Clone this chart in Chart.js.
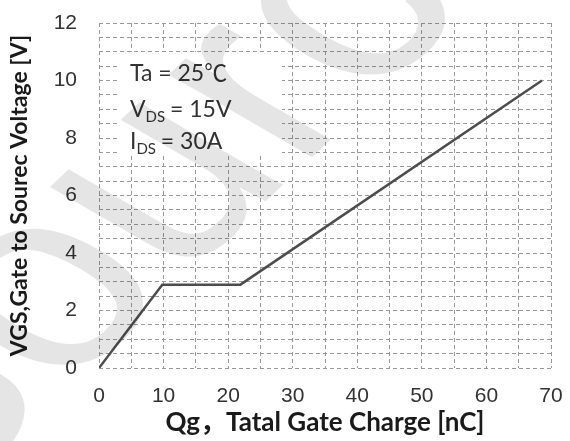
<!DOCTYPE html>
<html>
<head>
<meta charset="utf-8">
<script src="https://cdn.jsdelivr.net/npm/chart.js@4/dist/chart.umd.min.js"></script>
<style>
  html, body { margin: 0; padding: 0; background: #fff; }
  canvas { display: block; }
</style>
</head>
<body>
<canvas id="chart-qg" width="570" height="441"></canvas>
<script>
// gate charge curve
const qg = [0, 9.8, 21.9, 68.6];
const vgs = [0, 2.9, 2.9, 10];
const xLabelTicks = [0, 10, 20, 30, 40, 50, 60, 70];
const yLabelTicks = [0, 2, 4, 6, 8, 10, 12];
const notes = [
  { main: "Ta = 25℃", sub: "", rest: "" },
  { main: "V", sub: "DS", rest: " = 15V" },
  { main: "I", sub: "DS", rest: " = 30A" },
];

const TICK_FONT = { family: "'Liberation Sans', Arial, sans-serif", size: 21 };
const NOTE_FAMILY = "Lato, 'Noto Sans CJK SC', sans-serif";

// ── Condition box (white patch over the grid + text) ───────────────────────
const notesPlugin = {
  id: "notes",
  beforeDatasetsDraw(chart) {
    const ctx = chart.ctx;
    ctx.save();
    ctx.fillStyle = "#fff";
    ctx.fillRect(120, 52, 162, 102);
    ctx.fillStyle = "#333";
    ctx.textBaseline = "alphabetic";
    const baselines = [81, 117, 149];
    notes.forEach((n, i) => {
      let x = 130;
      const y = baselines[i];
      ctx.font = `23px ${NOTE_FAMILY}`;
      ctx.fillText(n.main, x, y);
      x += ctx.measureText(n.main).width;
      if (n.sub) {
        ctx.font = `15px ${NOTE_FAMILY}`;
        ctx.fillText(n.sub, x, y + 5);
        x += ctx.measureText(n.sub).width - 1;
        ctx.font = `23px ${NOTE_FAMILY}`;
        ctx.fillText(n.rest, x, y);
      }
    });
    ctx.restore();
  },
};

// ── Watermark (stretched, tilted "Source") ─────────────────────────────────
const watermarkPlugin = {
  id: "watermark",
  afterDraw(chart) {
    const ctx = chart.ctx;
    const size = 255;
    const k = 1.35;
    const a = (-52 * Math.PI) / 180;
    // put the centre of the "o" at (50, 298)
    const px = 0.945 * size;
    const py = -0.26 * size;
    const tx = 50 - k * (px * Math.cos(a) - py * Math.sin(a));
    const ty = 298 - (px * Math.sin(a) + py * Math.cos(a));
    ctx.save();
    ctx.translate(tx, ty);
    ctx.scale(k, 1);
    ctx.rotate(a);
    ctx.font = `${size}px 'Liberation Sans', Arial, sans-serif`;
    ctx.fillStyle = "rgba(0,0,0,0.1)";
    ctx.textAlign = "left";
    ctx.textBaseline = "alphabetic";
    ctx.fillText("Source", 0, 0);
    ctx.restore();
  },
};

new Chart(document.getElementById("chart-qg"), {
  type: "scatter",
  data: {
    datasets: [
      {
        data: qg.map((x, i) => ({ x, y: vgs[i] })),
        showLine: true,
        borderColor: "#4d4d4d",
        borderWidth: 2.5,
        pointRadius: 0,
        tension: 0,
      },
    ],
  },
  options: {
    responsive: false,
    animation: false,
    layout: { padding: { top: 23, right: 19, left: 0, bottom: 0 } },
    plugins: { legend: { display: false }, tooltip: { enabled: false } },
    scales: {
      x: {
        type: "linear",
        min: 0,
        max: 70,
        afterFit: (s) => {
          s.height = 73;
          s.paddingLeft = 0;
          s.paddingRight = 0;
        },
        border: { display: false, dash: [4, 3] },
        grid: { color: "#9a9a9a", lineWidth: 1, drawTicks: false },
        ticks: {
          stepSize: 5,
          autoSkip: false,
          maxRotation: 0,
          padding: 16,
          color: "#333",
          font: TICK_FONT,
          callback: (v) => (xLabelTicks.includes(v) ? v : ""),
        },
        title: {
          display: true,
          text: "Qg，Tatal Gate Charge [nC]",
          color: "#1a1a1a",
          font: { family: NOTE_FAMILY, size: 26, weight: "bold" },
          padding: { top: 0, bottom: 3 },
        },
      },
      y: {
        type: "linear",
        min: 0,
        max: 12,
        afterFit: (s) => {
          s.width = 99;
          s.paddingTop = 0;
          s.paddingBottom = 0;
        },
        border: { display: false, dash: [4, 3] },
        grid: { color: "#9a9a9a", lineWidth: 1, drawTicks: false },
        ticks: {
          stepSize: 0.5,
          autoSkip: false,
          padding: 22,
          color: "#333",
          font: TICK_FONT,
          callback: (v) => (yLabelTicks.includes(v) ? v : ""),
        },
        title: {
          display: true,
          text: "VGS,Gate to Sourec Voltage [V]",
          color: "#1a1a1a",
          font: { family: NOTE_FAMILY, size: 23, weight: "bold" },
          padding: { top: 6, bottom: 0 },
        },
      },
    },
  },
  plugins: [notesPlugin, watermarkPlugin],
});
</script>
</body>
</html>
